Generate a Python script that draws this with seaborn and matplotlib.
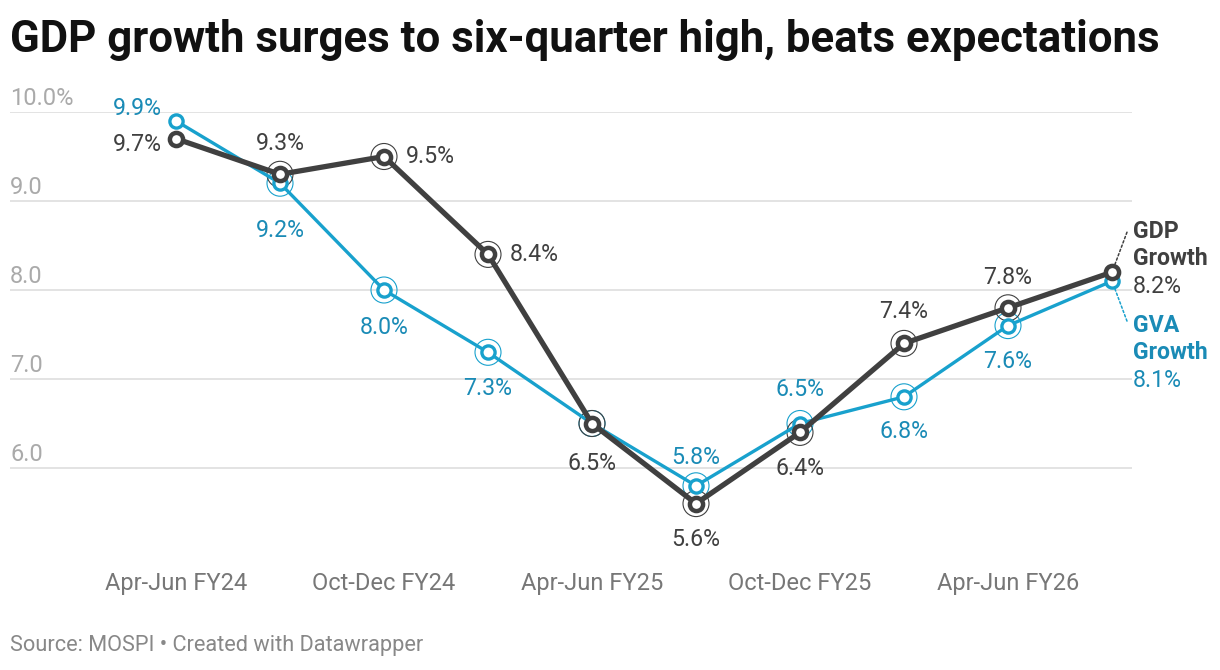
import matplotlib
matplotlib.use("Agg")
import matplotlib.pyplot as plt
import seaborn as sns
import pandas as pd

# Quarterly real growth, % y/y (MOSPI)
quarters = ["Apr-Jun FY24", "Jul-Sep FY24", "Oct-Dec FY24", "Jan-Mar FY24",
            "Apr-Jun FY25", "Jul-Sep FY25", "Oct-Dec FY25", "Jan-Mar FY25",
            "Apr-Jun FY26", "Jul-Sep FY26"]
gdp_growth = [9.7, 9.3, 9.5, 8.4, 6.5, 5.6, 6.4, 7.4, 7.8, 8.2]
gva_growth = [9.9, 9.2, 8.0, 7.3, 6.5, 5.8, 6.5, 6.8, 7.6, 8.1]
y_ticks = [6.0, 7.0, 8.0, 9.0, 10.0]

GDP_COLOR = "#404040"
GVA_COLOR = "#18a1cd"
GVA_TEXT = "#1a8bb6"

sns.set_style("white")
plt.rcParams["font.family"] = ["Roboto", "DejaVu Sans"]

df = pd.DataFrame({
    "idx": list(range(len(quarters))) * 2,
    "growth": gdp_growth + gva_growth,
    "series": ["GDP"] * len(quarters) + ["GVA"] * len(quarters),
})

fig = plt.figure(figsize=(12.2, 6.7), dpi=100)
ax = fig.add_axes([10 / 1220, 1 - 557 / 670, 1122 / 1220, 445 / 670])

# gridlines
for t in y_ticks:
    ax.axhline(t, color="#e0e0e0", lw=1.3, zorder=0)

px = 0.72  # pixels -> points
LAB = 16.7

# halo rings (points 1..8)
for vals, col in [(gva_growth, GVA_COLOR), (gdp_growth, GDP_COLOR)]:
    ax.scatter(range(1, len(vals) - 1), vals[1:-1], s=(26 * px) ** 2,
               facecolors="none", edgecolors=col, linewidths=0.8, zorder=2)

sns.lineplot(data=df[df.series == "GVA"], x="idx", y="growth", ax=ax,
             color=GVA_COLOR, lw=2.4, marker="o", markersize=9.5,
             markerfacecolor="white", markeredgecolor=GVA_COLOR,
             markeredgewidth=2.4, zorder=3)
sns.lineplot(data=df[df.series == "GDP"], x="idx", y="growth", ax=ax,
             color=GDP_COLOR, lw=3.8, marker="o", markersize=9.5,
             markerfacecolor="white", markeredgecolor=GDP_COLOR,
             markeredgewidth=3.2, zorder=4)

ax.set_xlim(-166 / 104, 956 / 104)
ax.set_ylim(5.0, 10.0)
ax.set_xlabel("")
ax.set_ylabel("")
sns.despine(ax=ax, left=True, bottom=True)

ax.set_xticks(range(0, len(quarters), 2))
ax.set_xticklabels(quarters[::2], color="#777777", fontsize=17)
ax.tick_params(axis="x", length=0, pad=11)
ax.set_yticks([])

# y tick labels sit above gridlines
for t in y_ticks:
    lab = f"{t:.1f}%" if t == y_ticks[-1] else f"{t:.1f}"
    ax.annotate(lab, xy=(0, t), xycoords=("axes fraction", "data"),
                xytext=(0, 7 * px), textcoords="offset points",
                ha="left", va="baseline", fontsize=17, color="#aaaaaa")

# value label offsets in pixels (dx, dy up)
gdp_offsets = [(-14, -6), (0, 31), (22, 0), (22, 0), (0, -40),
               (0, -36), (0, -36), (0, 32), (0, 30), None]
gva_offsets = [(-14, 12), (0, -47), (0, -37), (0, -36), None,
               (0, 28), (0, 34), (0, -35), (0, -36), None]

for vals, offs, col in [(gdp_growth, gdp_offsets, GDP_COLOR),
                        (gva_growth, gva_offsets, GVA_TEXT)]:
    for i, (v, o) in enumerate(zip(vals, offs)):
        if o is None:
            continue
        dx, dy = o
        ha = "right" if dx < 0 else ("left" if dx > 0 else "center")
        ax.annotate(f"{v:.1f}%", xy=(i, v), xytext=(dx * px, dy * px),
                    textcoords="offset points", ha=ha, va="center",
                    fontsize=LAB, color=col, zorder=6)

# end labels
last = len(quarters) - 1
for vals, name, col, tcol, ys, conn in [
        (gdp_growth, "GDP", GDP_COLOR, GDP_COLOR, (41, 14, -14), (15, 40)),
        (gva_growth, "GVA", GVA_COLOR, GVA_TEXT, (-44, -71, -99), (15, -40))]:
    v = vals[last]
    ax.annotate("", xy=(last, v), xytext=(conn[0] * px, conn[1] * px),
                textcoords="offset points", annotation_clip=False,
                arrowprops=dict(arrowstyle="-", color=col, lw=1.1,
                                linestyle=(0, (1.5, 1.5)), shrinkA=0, shrinkB=6))
    for txt, dy, w in [(name, ys[0], "bold"), ("Growth", ys[1], "bold"),
                       (f"{v:.1f}%", ys[2], "normal")]:
        ax.annotate(txt, xy=(last, v), xytext=(21 * px, dy * px),
                    textcoords="offset points", ha="left", va="center",
                    fontsize=LAB, fontweight=w, color=tcol,
                    annotation_clip=False)

fig.text(10 / 1220, 1 - 52 / 670, "GDP growth surges to six-quarter high, beats expectations",
         ha="left", va="baseline", fontsize=31.5, fontweight="bold", color="#111111")
fig.text(10 / 1220, 1 - 651 / 670, "Source: MOSPI \u2022 Created with Datawrapper",
         ha="left", va="baseline", fontsize=15.7, color="#888888")

fig.savefig("out.png", dpi=100)
